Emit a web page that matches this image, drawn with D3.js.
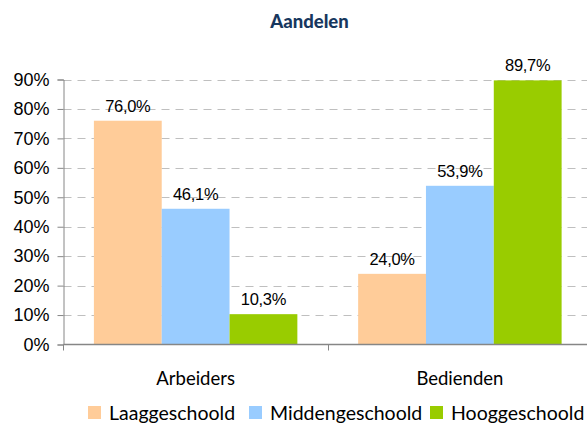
<!DOCTYPE html>
<html><head><meta charset="utf-8">
<script src="https://cdn.jsdelivr.net/npm/d3@7"></script>
<style>body{margin:0;background:#fff}svg{display:block}</style>
</head><body>
<svg id="c" width="587" height="423"></svg>
<script>
const categories = ["Arbeiders", "Bedienden"];
const seriesNames = ["Laaggeschoold", "Middengeschoold", "Hooggeschoold"];
const laag = [0.760, 0.240];
const midden = [0.461, 0.539];
const hoog = [0.103, 0.897];
const yTicks = [0, 0.1, 0.2, 0.3, 0.4, 0.5, 0.6, 0.7, 0.8, 0.9];
const colors = ["#FFCC99", "#99CCFF", "#99CC00"];
const seriesValues = [laag, midden, hoog];

(function () {
const svg = d3.select("#c");
const pLeft = 63.5, pRight = 592, pTop = 79.5, pBottom = 344.5;
const y = d3.scaleLinear().domain([0, 0.9]).range([pBottom, pTop]);
const x0 = d3.scaleBand().domain(categories).range([pLeft, pRight]).paddingInner(0.23).paddingOuter(0.115);
const x1 = d3.scaleBand().domain(seriesNames).range([0, x0.bandwidth()]);
const step = x0.step();

// title
svg.append("text").attr("x", 309.5).attr("y", 28).attr("text-anchor", "middle")
  .attr("font-family", "Lato, sans-serif").attr("font-weight", 900).attr("font-size", 18.5)
  .attr("fill", "#17375E").text("Aandelen");

// gridlines
svg.append("g").selectAll("line").data(yTicks.slice(1)).join("line")
  .attr("x1", pLeft).attr("x2", pRight).attr("y1", d => Math.round(y(d)) + 0.5).attr("y2", d => Math.round(y(d)) + 0.5)
  .attr("stroke", "#BFBFBF").attr("stroke-width", 1).attr("stroke-dasharray", "8,6");

// y axis
const yAxis = d3.axisLeft(y).tickValues(yTicks).tickSize(6).tickPadding(8)
  .tickFormat(d => d3.format(".0%")(d));
const gy = svg.append("g").attr("transform", `translate(${pLeft},0)`).call(yAxis);
gy.select(".domain").attr("stroke", "#868686");
gy.selectAll(".tick line").attr("stroke", "#868686");
gy.selectAll(".tick text").attr("font-family", "'Liberation Sans', Arial, sans-serif").attr("font-size", 18).attr("fill", "#000");

// bars
const groups = svg.append("g").selectAll("g").data(categories).join("g")
  .attr("transform", c => `translate(${x0(c)},0)`);
groups.selectAll("rect").data((c, ci) => seriesNames.map((s, si) => ({s, si, v: seriesValues[si][ci]}))).join("rect")
  .attr("x", d => x1(d.s)).attr("width", x1.bandwidth())
  .attr("y", d => y(d.v)).attr("height", d => pBottom - y(d.v))
  .attr("fill", d => colors[d.si]);
groups.selectAll("text").data((c, ci) => seriesNames.map((s, si) => ({s, si, v: seriesValues[si][ci]}))).join("text")
  .attr("x", d => x1(d.s) + x1.bandwidth() / 2).attr("y", d => y(d.v) - 9)
  .attr("text-anchor", "middle").attr("font-family", "'Liberation Sans', Arial, sans-serif")
  .attr("font-size", 16.5).attr("letter-spacing", "-0.3").attr("fill", "#000")
  .text(d => d3.format(".1f")(d.v * 100).replace(".", ",") + "%");

// x axis
const gx = svg.append("g");
gx.append("line").attr("x1", pLeft).attr("x2", pRight).attr("y1", pBottom).attr("y2", pBottom)
  .attr("stroke", "#868686").attr("stroke-width", 1.5);
const boundaries = categories.map(c => x0(c) - step * 0.115).concat([pRight]);
gx.selectAll("line.t").data(boundaries).join("line").attr("class", "t")
  .attr("x1", d => Math.round(d) + 0.5).attr("x2", d => Math.round(d) + 0.5)
  .attr("y1", pBottom).attr("y2", pBottom + 6).attr("stroke", "#868686");
gx.selectAll("text").data(categories).join("text")
  .attr("x", c => x0(c) + x0.bandwidth() / 2).attr("y", 385)
  .attr("text-anchor", "middle").attr("font-family", "Lato, sans-serif").attr("font-size", 18.5)
  .attr("fill", "#000").text(c => c);

// legend
const legendX = [88, 249, 430];
const lg = svg.append("g").selectAll("g").data(seriesNames).join("g")
  .attr("transform", (d, i) => `translate(${legendX[i]},406)`);
lg.append("rect").attr("width", 13).attr("height", 13).attr("fill", (d, i) => colors[i]);
lg.append("text").attr("x", 21).attr("y", 13.5).attr("font-family", "Lato, sans-serif").attr("font-size", 19.5)
  .attr("fill", "#000").text(d => d);
})();
</script>
</body></html>
